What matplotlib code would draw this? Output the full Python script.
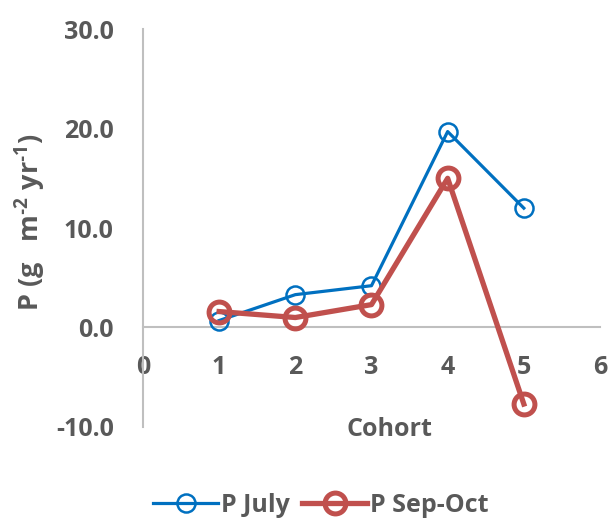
import matplotlib
matplotlib.use("Agg")
import matplotlib.pyplot as plt
from matplotlib.ticker import FormatStrFormatter

plt.rcParams['font.family'] = ['Open Sans', 'DejaVu Sans']
plt.rcParams['font.weight'] = 'bold'
plt.rcParams['mathtext.fontset'] = 'custom'
plt.rcParams['mathtext.rm'] = 'Open Sans:bold'
plt.rcParams['mathtext.it'] = 'Open Sans:bold'
plt.rcParams['mathtext.bf'] = 'Open Sans:bold'
plt.rcParams['mathtext.default'] = 'rm'

cohort = [1, 2, 3, 4, 5]
p_july = [0.7, 3.3, 4.2, 19.7, 12.0]
p_sep_oct = [1.6, 1.0, 2.3, 15.0, -7.7]
x_ticks = [0, 1, 2, 3, 4, 5, 6]
y_ticks = [-10, 0, 10, 20, 30]

text_color = '#595959'
axis_color = '#BFBFBF'
blue = '#0070C0'
red = '#C0504D'

fig = plt.figure(figsize=(6.11, 5.20), dpi=100)
ax = fig.add_axes([0.234, 0.179, 0.748, 0.765])

ax.plot(cohort, p_july, color=blue, lw=2.3, marker='o', ms=13,
        mfc='none', mec=blue, mew=1.8, label='P July', zorder=3)
ax.plot(cohort, p_sep_oct, color=red, lw=3.8, marker='o', ms=15,
        mfc='none', mec=red, mew=3.6, label='P Sep-Oct', zorder=3)

ax.set_xlim(0, 6)
ax.set_ylim(-10, 30)
ax.set_xticks(x_ticks)
ax.set_yticks(y_ticks)
ax.yaxis.set_major_formatter(FormatStrFormatter('%.1f'))

for s in ['top', 'right']:
    ax.spines[s].set_visible(False)
ax.spines['bottom'].set_position(('data', 0))
for s in ['left', 'bottom']:
    ax.spines[s].set_color(axis_color)
    ax.spines[s].set_linewidth(1.5)

ax.tick_params(axis='x', length=0, pad=20, labelsize=18, labelcolor=text_color)
ax.tick_params(axis='y', length=0, pad=21, labelsize=18, labelcolor=text_color)
for lab in ax.get_xticklabels() + ax.get_yticklabels():
    lab.set_fontweight('bold')

fig.text(0.637, 0.175, 'Cohort', ha='center', va='center', fontsize=18,
         color=text_color, fontweight='bold')
fig.text(0.05, 0.573, 'P (g   m$^{\u20102}$ yr$^{\u20101}$)', ha='center', va='center',
         rotation=90, fontsize=19.5, color=text_color, fontweight='bold')

leg = fig.legend(loc='center', bbox_to_anchor=(0.525, 0.028), ncol=2,
                 frameon=False, fontsize=18, handlelength=2.6,
                 handletextpad=0.1, columnspacing=0.5)
for t in leg.get_texts():
    t.set_color(text_color)
    t.set_fontweight('bold')

fig.savefig('out.png', dpi=100)
